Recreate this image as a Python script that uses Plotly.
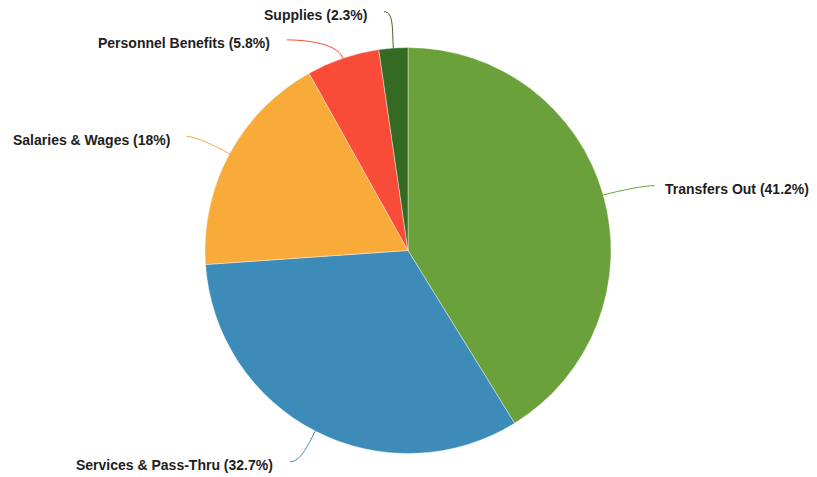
import math
import plotly.graph_objects as go

# ---- data ----
categories = ["Transfers Out", "Services & Pass-Thru", "Salaries & Wages",
              "Personnel Benefits", "Supplies"]
values = [41.2, 32.7, 18.0, 5.8, 2.3]
colors = ["#6aa13a", "#3d8bb8", "#f8ab38", "#f94c38", "#346a21"]

# ---- label placement (layout tweaks) ----
label_angle_shift = [1.1, 2.0, -1.2, -11.2, -1.6]   # degrees
label_radius = [255, 242, 249, 243, 240]             # px from centre

W, H = 817, 477
PAGE_OFF = 8  # default body margin of the html page
CX, CY, R = 408 - PAGE_OFF, 250.5 - PAGE_OFF, 203

total = sum(values)


def fmt_pct(p):
    s = f"{p:.1f}".rstrip("0").rstrip(".")
    return s + "%"


def pt(theta_deg, rad):
    t = math.radians(theta_deg)
    return CX + rad * math.sin(t), CY - rad * math.cos(t)


def px(x, y):
    return x / W, 1 - y / H


fig = go.Figure(go.Pie(
    labels=categories,
    values=values,
    marker=dict(colors=colors, line=dict(color="white", width=0.4)),
    sort=False,
    direction="clockwise",
    rotation=0,
    textinfo="none",
    hoverinfo="label+percent",
    showlegend=False,
    domain=dict(x=[(CX - R) / W, (CX + R) / W],
                y=[1 - (CY + R) / H, 1 - (CY - R) / H]),
))

shapes = []
annotations = []
cum = 0.0
for i, (lab, v) in enumerate(zip(categories, values)):
    start = cum / total * 360
    cum += v
    end = cum / total * 360
    mid = (start + end) / 2
    p1 = pt(mid, R)
    c1 = pt(mid, R + 18)
    p3 = pt(mid + label_angle_shift[i], label_radius[i])
    right = math.sin(math.radians(mid)) > 0
    c2 = (p3[0] + (-10 if right else 10), p3[1])
    pts = [px(*p) for p in (p1, c1, c2, p3)]
    path = "M {:.5f},{:.5f} C {:.5f},{:.5f} {:.5f},{:.5f} {:.5f},{:.5f}".format(
        *[c for p in pts for c in p])
    shapes.append(dict(type="path", xref="paper", yref="paper", path=path,
                       line=dict(color=colors[i], width=1)))
    gap = 8 if right else 15
    tx = p3[0] + (gap if right else -gap)
    ty = p3[1] + 3.5
    annotations.append(dict(
        x=tx / W, y=1 - ty / H, xref="paper", yref="paper",
        xanchor="left" if right else "right", yanchor="middle",
        text=f"{lab} ({fmt_pct(v / total * 100)})",
        showarrow=False,
        font=dict(family="Liberation Sans, Arial, sans-serif", size=14,
                  color="#1e1e1e", weight="bold"),
    ))

fig.update_layout(
    width=W, height=H,
    margin=dict(l=0, r=0, t=0, b=0),
    paper_bgcolor="white",
    plot_bgcolor="white",
    shapes=shapes,
    annotations=annotations,
)

fig.write_html("out.html")
